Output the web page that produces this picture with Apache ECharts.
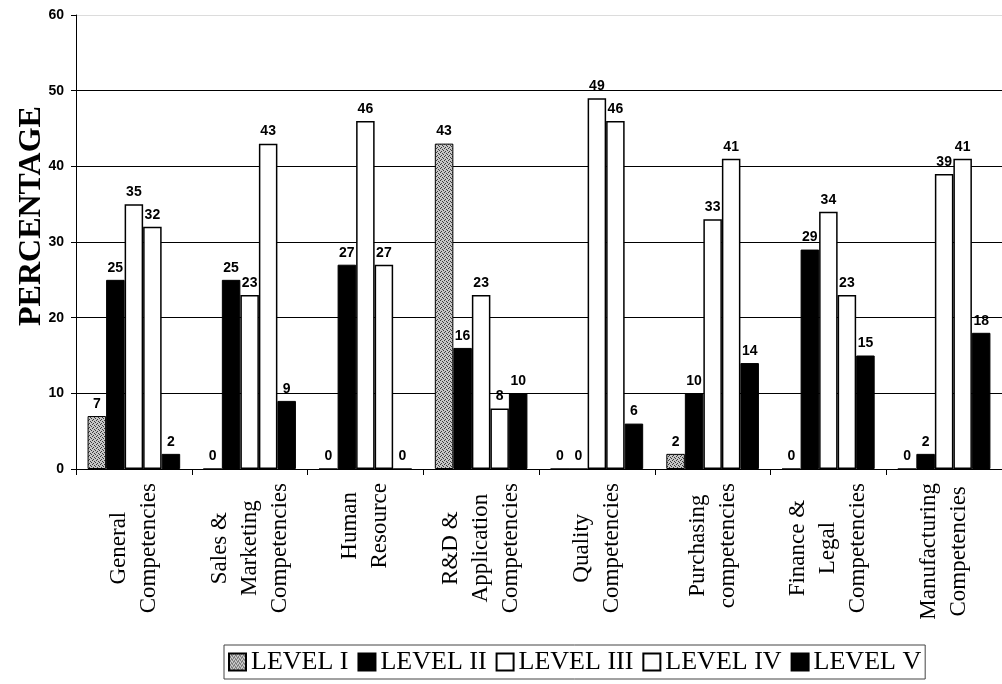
<!DOCTYPE html>
<html>
<head>
<meta charset="utf-8">
<script src="https://cdn.jsdelivr.net/npm/echarts@6/dist/echarts.min.js"></script>
<style>
  html, body { margin: 0; padding: 0; background: #fff; }
  #chart { width: 1002px; height: 684px; }
</style>
</head>
<body>
<div id="chart"></div>
<script>
// Competency areas (line breaks are drawn as separate label lines)
const categories = [
  'General\nCompetencies',
  'Sales &\nMarketing\nCompetencies',
  'Human\nResource',
  'R&D &\nApplication\nCompetencies',
  'Quality\nCompetencies',
  'Purchasing\ncompetencies',
  'Finance &\nLegal\nCompetencies',
  'Manufacturing\nCompetencies'
];

const levelNames = ['LEVEL I', 'LEVEL II', 'LEVEL III', 'LEVEL IV', 'LEVEL V'];

// Percentage of respondents per level
const level1 = [7, 0, 0, 43, 0, 2, 0, 0];
const level2 = [25, 25, 27, 16, 0, 10, 29, 2];
const level3 = [35, 23, 46, 23, 49, 33, 34, 39];
const level4 = [32, 43, 27, 8, 46, 41, 23, 41];
const level5 = [2, 9, 0, 10, 6, 14, 15, 18];

const yMin = 0, yMax = 60, yStep = 10;

// Speckled grey fill used for the first level
function stipple() {
  const c = document.createElement('canvas');
  c.width = 4; c.height = 4;
  const g = c.getContext('2d');
  g.fillStyle = '#c6c6c6';
  g.fillRect(0, 0, 4, 4);
  g.fillStyle = '#3a3a3a';
  [[0, 0], [2, 1], [1, 3], [3, 2]].forEach(function (p) { g.fillRect(p[0], p[1], 1, 1); });
  return c;
}

const levelStyles = [
  { color: { image: stipple(), repeat: 'repeat' }, borderColor: '#000', borderWidth: 1 },
  { color: '#000', borderColor: '#000', borderWidth: 1 },
  { color: '#fff', borderColor: '#000', borderWidth: 1.5 },
  { color: '#fff', borderColor: '#000', borderWidth: 1.5 },
  { color: '#000', borderColor: '#000', borderWidth: 1 }
];
const levelData = [level1, level2, level3, level4, level5];

const chart = echarts.init(document.getElementById('chart'), null, { renderer: 'canvas' });

const series = levelNames.map(function (name, i) {
  return {
    name: name,
    type: 'bar',
    data: levelData[i],
    barGap: '0%',
    barCategoryGap: '20%',
    itemStyle: levelStyles[i],
    label: {
      show: true,
      position: 'top',
      distance: 5,
      color: '#000',
      fontFamily: 'Liberation Sans',
      fontWeight: 'bold',
      fontSize: 14
    }
  };
});

const gridColors = [];
for (let v = yMin; v <= yMax; v += yStep) {
  gridColors.push(v === yMax ? '#dcdcdc' : '#000');
}

chart.setOption({
  animation: false,
  backgroundColor: '#fff',
  grid: { left: 76, right: -7, top: 15, bottom: 215 },
  legend: {
    data: levelNames,
    left: 224,
    top: 645,
    icon: 'rect',
    itemWidth: 17,
    itemHeight: 17,
    itemGap: 9,
    padding: [4, 4, 4, 4],
    borderColor: '#444',
    borderWidth: 1,
    textStyle: { fontFamily: 'Liberation Serif', fontSize: 26, color: '#000' }
  },
  xAxis: {
    type: 'category',
    data: categories,
    axisLine: { show: true, lineStyle: { color: '#000', width: 1 } },
    axisTick: { show: true, interval: 0, length: 6, lineStyle: { color: '#000' } },
    axisLabel: {
      interval: 0,
      rotate: 90,
      margin: 14,
      formatter: function (v) {
        return v.split('\n').map(function (s) { return '{c|' + s + '}'; }).join('\n');
      },
      rich: {
        c: {
          align: 'center',
          fontFamily: 'Liberation Serif',
          fontSize: 23,
          lineHeight: 30,
          color: '#000'
        }
      }
    },
    splitLine: { show: false }
  },
  yAxis: {
    type: 'value',
    min: yMin,
    max: yMax,
    interval: yStep,
    name: 'PERCENTAGE',
    nameLocation: 'middle',
    nameGap: 28,
    nameMoveOverlap: false,
    nameTextStyle: {
      fontFamily: 'Liberation Serif',
      fontWeight: 'bold',
      fontSize: 32,
      color: '#000',
      padding: [0, 0, 0, 52]
    },
    axisLine: { show: true, lineStyle: { color: '#000', width: 1 } },
    axisTick: { show: true, length: 5, lineStyle: { color: '#000' } },
    axisLabel: {
      margin: 12,
      color: '#000',
      fontFamily: 'Liberation Sans',
      fontWeight: 'bold',
      fontSize: 14
    },
    splitLine: { show: true, lineStyle: { color: gridColors, width: 1 } }
  },
  series: series
});
</script>
</body>
</html>
